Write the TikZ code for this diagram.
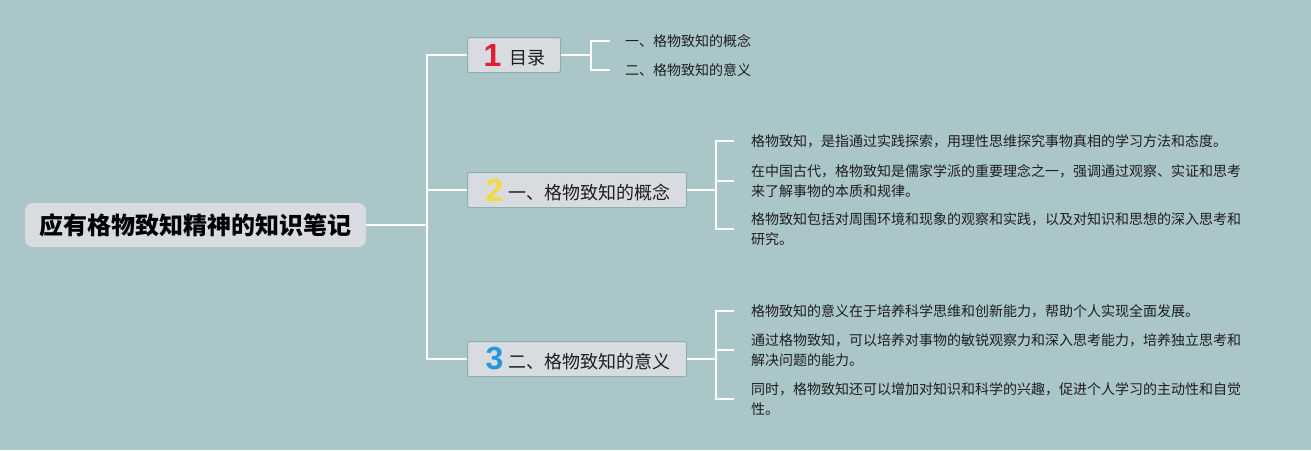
\documentclass[tikz,border=0pt]{standalone}
\usepackage{fontspec}
\newfontfamily\cjk{Noto Sans CJK SC}
\newfontfamily\numfont{Liberation Sans}
\definecolor{bg}{RGB}{171,198,201}
\definecolor{boxfill}{RGB}{216,220,224}
\definecolor{boxline}{RGB}{138,176,170}
\definecolor{numred}{RGB}{222,30,50}
\definecolor{numyellow}{RGB}{246,218,60}
\definecolor{numblue}{RGB}{40,150,220}
\definecolor{txt}{RGB}{30,30,30}
\newcommand{\bignum}[2]{\raisebox{-1.5pt}{\numfont\bfseries\fontsize{32}{32}\selectfont\color{#1}#2}}
\begin{document}
\begin{tikzpicture}[x=1pt,y=-1pt,
  conn/.style={draw=white,line width=1.8pt},
  rootbox/.style={fill=boxfill, rounded corners=8pt, minimum width=341pt, minimum height=44pt, inner sep=0pt, font=\cjk\bfseries\fontsize{24}{28}\selectfont, text=black},
  topic/.style={fill=boxfill, draw=boxline, line width=1pt, rounded corners=2pt, minimum height=35pt, inner xsep=0pt, inner ysep=0pt, anchor=west, align=left, font=\cjk\fontsize{18}{22}\selectfont, text=txt},
  leaf/.style={anchor=west, inner sep=0pt, align=left, font=\cjk\fontsize{14}{20}\selectfont, text=txt},
]
\fill[bg] (0,0) rectangle (1311,450);
\useasboundingbox (0,0) rectangle (1311,450);

\node[rootbox] (root) at (195.5,225) {应有格物致知精神的知识笔记};

\node[topic, text width=93pt] (t1) at (467,55) {\hspace*{16pt}\bignum{numred}{1}\hspace{8pt}目录};
\node[topic, text width=219pt] (t2) at (467,190) {\hspace*{18pt}\bignum{numyellow}{2}\hspace{5pt}一、格物致知的概念};
\node[topic, text width=219pt] (t3) at (467,359) {\hspace*{18pt}\bignum{numblue}{3}\hspace{5pt}二、格物致知的意义};

\node[leaf] (s11) at (625,41) {一、格物致知的概念};
\node[leaf] (s12) at (625,70) {二、格物致知的意义};

\node[leaf] (s21) at (751,141) {格物致知，是指通过实践探索，用理性思维探究事物真相的学习方法和态度。};
\node[leaf] (s22) at (751,181) {在中国古代，格物致知是儒家学派的重要理念之一，强调通过观察、实证和思考\\来了解事物的本质和规律。};
\node[leaf] (s23) at (751,229) {格物致知包括对周围环境和现象的观察和实践，以及对知识和思想的深入思考和\\研究。};

\node[leaf] (s31) at (751,311) {格物致知的意义在于培养科学思维和创新能力，帮助个人实现全面发展。};
\node[leaf] (s32) at (751,350) {通过格物致知，可以培养对事物的敏锐观察力和深入思考能力，培养独立思考和\\解决问题的能力。};
\node[leaf] (s33) at (751,399) {同时，格物致知还可以增加对知识和科学的兴趣，促进个人学习的主动性和自觉\\性。};

\coordinate (bus) at (427,225);
\coordinate (b1) at (591,55);
\coordinate (b2) at (716,190);
\coordinate (b3) at (716,359);

\draw[conn] (root.east) -- (bus);
\draw[conn] (t1.west) -- (t1.west -| bus) -- (t3.west -| bus) -- (t3.west);
\draw[conn] (t2.west) -- (t2.west -| bus);

\draw[conn] (t1.east) -- (b1);
\draw[conn] ([xshift=-15pt]s11.west) -| (b1) |- ([xshift=-15pt]s12.west);

\draw[conn] (t2.east) -- (b2);
\draw[conn] ([xshift=-17pt]s21.west) -| (b2) |- ([xshift=-17pt]s23.west);
\draw[conn] ([xshift=-17pt]s22.west) -- (s22.west -| b2);

\draw[conn] (t3.east) -- (b3);
\draw[conn] ([xshift=-17pt]s31.west) -| (b3) |- ([xshift=-17pt]s33.west);
\draw[conn] ([xshift=-17pt]s32.west) -- (s32.west -| b3);
\end{tikzpicture}
\end{document}
